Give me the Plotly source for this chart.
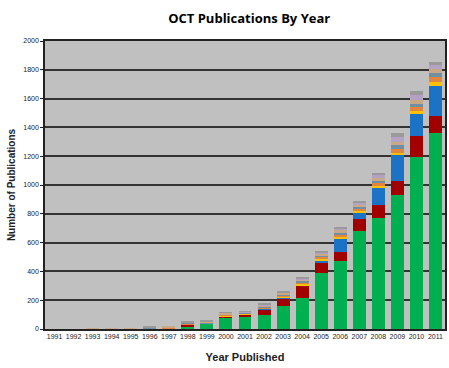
import plotly.graph_objects as go

years = [str(y) for y in range(1991, 2012)]

green = [0, 0, 0, 0, 1, 5, 2, 16, 35, 79, 86, 97, 160, 213, 387, 472, 680, 769, 930, 1197, 1361]
darkred = [0, 0, 0, 0, 0, 0, 3, 15, 3, 11, 16, 40, 53, 86, 69, 65, 82, 92, 98, 143, 120]
blue = [0, 0, 0, 0, 0, 0, 0, 0, 0, 0, 0, 2, 3, 5, 23, 86, 48, 123, 178, 153, 207]
yellow = [0, 0, 0, 0, 0, 0, 0, 3, 0, 3, 4, 5, 12, 10, 10, 15, 12, 12, 15, 18, 25]
orange = [0, 0, 0, 0, 0, 0, 8, 4, 0, 6, 4, 8, 8, 12, 12, 18, 15, 20, 30, 30, 35]
steel = [0, 0, 0, 0, 0, 6, 0, 5, 10, 3, 2, 4, 5, 5, 12, 12, 12, 15, 25, 25, 30]
tan = [0, 0, 1, 2, 3, 0, 8, 5, 5, 12, 6, 10, 10, 15, 10, 18, 15, 20, 25, 25, 25]
lavender = [0, 0, 0, 0, 0, 0, 0, 0, 0, 2, 1, 5, 4, 5, 8, 14, 15, 20, 35, 35, 28]
gray = [0, 0, 0, 0, 0, 3, 0, 3, 3, 2, 1, 3, 4, 5, 6, 10, 10, 15, 23, 27, 23]

series = [
    ("Ophthalmology", green, "#00B050"),
    ("Cardiology", darkred, "#A00000"),
    ("Dermatology", blue, "#1C72C4"),
    ("Dentistry", yellow, "#FFC000"),
    ("Gastroenterology", orange, "#E3843E"),
    ("Otolaryngology", steel, "#6F8FA3"),
    ("Materials", tan, "#C8A886"),
    ("Neurology", lavender, "#B4A2C4"),
    ("Other", gray, "#9A9A9A"),
]

fig = go.Figure()
for name, vals, col in series:
    fig.add_trace(go.Bar(x=years, y=vals, name=name, marker=dict(color=col, line=dict(width=0))))

fig.update_layout(
    barmode="stack",
    bargap=0.32,
    width=449,
    height=368,
    showlegend=False,
    paper_bgcolor="white",
    plot_bgcolor="#C0C0C0",
    margin=dict(l=45, r=4, t=41, b=39, autoexpand=False),
    title=dict(text="<b>OCT Publications By Year</b>", x=0.555, xanchor="center", y=0.951, yanchor="middle",
               font=dict(family="Open Sans", size=13, color="black")),
    font=dict(family="Liberation Sans", color="#222"),
)
fig.update_xaxes(
    type="category",
    showline=True, linecolor="#222", linewidth=1.5, mirror=True,
    tickfont=dict(size=7, color="#222"),
    ticks="",
    automargin=False,
    title=dict(text="<b>Year Published</b>", font=dict(family="Liberation Sans", size=11, color="#222"), standoff=14),
)
fig.update_yaxes(
    range=[0, 2000], dtick=200,
    showline=True, linecolor="#222", linewidth=1.5, mirror=True,
    gridcolor="#333333", gridwidth=1.5,
    tickfont=dict(size=7, color="#222"),
    ticks="outside", ticklen=3, tickcolor="#222",
    zeroline=False,
    automargin=False,
    title=dict(text="<b>Number of Publications</b>", font=dict(family="Liberation Sans", size=10, color="#222"), standoff=6),
)

fig.write_html(
    "out.html",
    config={"displayModeBar": False},
    post_script="document.body.style.margin='0';document.body.style.overflow='hidden';",
)
